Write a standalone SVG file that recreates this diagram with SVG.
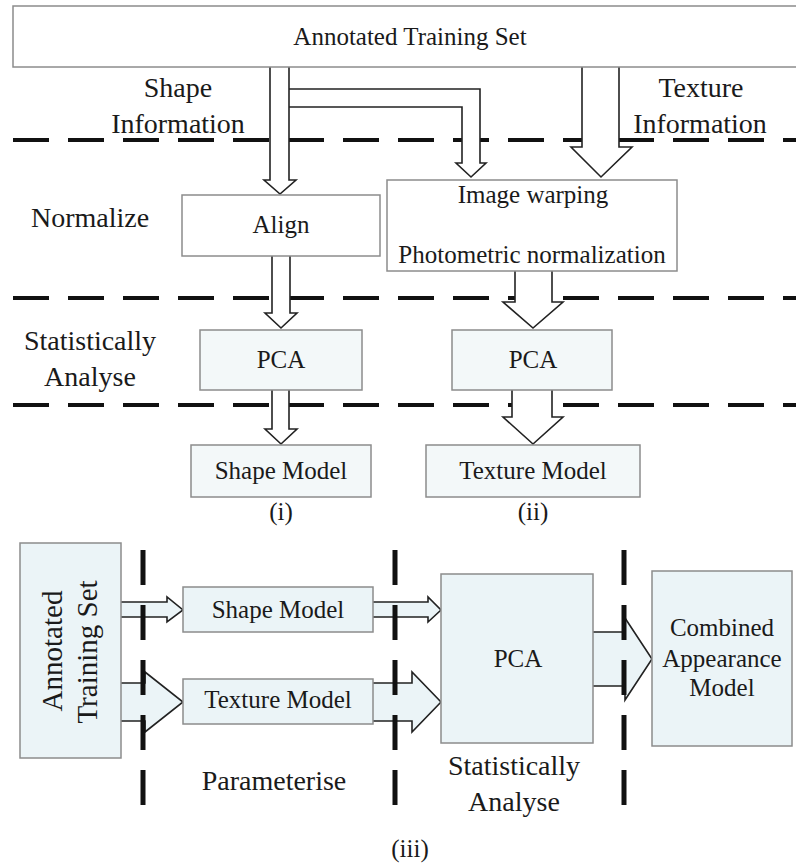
<svg xmlns="http://www.w3.org/2000/svg" width="796" height="866" viewBox="0 0 796 866">
  <style>
    text { font-family: "Liberation Serif", "Times New Roman", serif; fill: #1a1a1a; text-anchor: middle; }
    .lbl { font-size: 28px; }
    .box-t { font-size: 25px; }
    .box { fill: #ffffff; stroke: #8c8c8c; stroke-width: 1.5; }
    .box-tint { fill: #f3f8f9; stroke: #8c8c8c; stroke-width: 1.5; }
    .box-blue { fill: #ebf4f7; stroke: #8c8c8c; stroke-width: 1.5; }
    .arrow { fill: #ffffff; stroke: #222222; stroke-width: 1.6; stroke-linejoin: miter; }
    .arrow-blue { fill: #ebf4f7; stroke: #222222; stroke-width: 1.6; stroke-linejoin: miter; }
    .hdash { stroke: #111111; stroke-width: 4; stroke-dasharray: 36 19; fill: none; }
    .vdash { stroke: #111111; stroke-width: 5; stroke-dasharray: 35 20; fill: none; }
  </style>

  <!-- stage separators, top half -->
  <g id="separators-top">
    <line class="hdash" x1="13" y1="140" x2="796" y2="140"/>
    <line class="hdash" x1="13" y1="298" x2="796" y2="298"/>
    <line class="hdash" x1="13" y1="405" x2="796" y2="405"/>
  </g>

  <!-- block arrows, top half -->
  <g id="connectors-top">
    <path class="arrow" d="M289,89 H480 V163 H486 L471,177 L456,163 H462 V107 H289"/>
    <path class="arrow" d="M270,67 V180 H264 L280,194 L296,180 H289 V67"/>
    <path class="arrow" d="M582,67 V147 H571 L601,177 L632,147 H619 V67"/>
    <path class="arrow" d="M272,256 V313 H265 L281,328 L297,313 H290 V256"/>
    <path class="arrow" d="M515,271 V302 H503 L533,328 L563,302 H552 V271"/>
    <path class="arrow" d="M272,390 V429 H265 L281,444 L297,429 H289 V390"/>
    <path class="arrow" d="M512,390 V417 H503 L533,444 L563,417 H552 V390"/>
  </g>

  <g id="training-set">
    <rect class="box" x="13" y="6" width="800" height="61"/>
    <text x="410" y="45" style="font-size:25px">Annotated Training Set</text>
  </g>

  <g id="stage-labels-top">
    <text class="lbl" x="178" y="97">Shape</text>
    <text class="lbl" x="178" y="133">Information</text>
    <text class="lbl" x="701" y="97">Texture</text>
    <text class="lbl" x="700" y="133">Information</text>
    <text class="lbl" x="90" y="227">Normalize</text>
    <text class="lbl" x="90" y="350">Statistically</text>
    <text class="lbl" x="90" y="386">Analyse</text>
  </g>

  <g id="align">
    <rect class="box" x="182" y="195" width="198" height="61"/>
    <text class="box-t" x="281" y="233">Align</text>
  </g>

  <g id="warp">
    <rect class="box" x="387" y="180" width="290" height="91"/>
    <text class="box-t" x="533" y="203">Image warping</text>
    <text class="box-t" x="532" y="263">Photometric normalization</text>
  </g>

  <g id="pca-shape">
    <rect class="box-tint" x="200" y="330" width="162" height="60"/>
    <text class="box-t" x="281" y="368">PCA</text>
  </g>

  <g id="pca-texture">
    <rect class="box-tint" x="452" y="330" width="160" height="60"/>
    <text class="box-t" x="533" y="368">PCA</text>
  </g>

  <g id="shape-model">
    <rect class="box-tint" x="191" y="445" width="180" height="52"/>
    <text class="box-t" x="281" y="479">Shape Model</text>
    <text class="box-t" x="281" y="520">(i)</text>
  </g>

  <g id="texture-model">
    <rect class="box-tint" x="426" y="445" width="214" height="52"/>
    <text class="box-t" x="533" y="479">Texture Model</text>
    <text class="box-t" x="533" y="520">(ii)</text>
  </g>

  <!-- combined model, bottom half -->
  <g id="connectors-bottom">
    <path class="arrow-blue" d="M121,602 H167 V597 L183,610 L167,622 V617 H121"/>
    <path class="arrow-blue" d="M373,602 H428 V597 L441,610 L428,622 V617 H373"/>
    <path class="arrow-blue" d="M121,683 H145 V672 L183,702 L145,732 V721 H121"/>
    <path class="arrow-blue" d="M373,683 H412 V672 L441,702 L412,732 V721 H373"/>
    <path class="arrow-blue" d="M593,632 H625 V618 L652,659 L625,700 V686 H593"/>
  </g>

  <g id="bottom-training-set">
    <rect class="box-blue" x="20" y="543" width="101" height="215"/>
    <text transform="translate(62,651) rotate(-90)" style="font-size:29px">Annotated</text>
    <text transform="translate(97,652) rotate(-90)" style="font-size:29px">Training Set</text>
  </g>

  <g id="bottom-shape-model">
    <rect class="box-blue" x="183" y="587" width="190" height="45"/>
    <text class="box-t" x="278" y="618">Shape Model</text>
  </g>

  <g id="bottom-texture-model">
    <rect class="box-blue" x="183" y="679" width="190" height="45"/>
    <text class="box-t" x="278" y="708">Texture Model</text>
  </g>

  <g id="bottom-pca">
    <rect class="box-blue" x="441" y="574" width="152" height="169"/>
    <text class="box-t" x="518" y="667">PCA</text>
  </g>

  <g id="combined-model">
    <rect class="box-blue" x="652" y="571" width="140" height="175"/>
    <text class="box-t" x="722" y="636">Combined</text>
    <text class="box-t" x="722" y="667">Appearance</text>
    <text class="box-t" x="722" y="696">Model</text>
  </g>

  <g id="separators-bottom">
    <line class="vdash" x1="143" y1="550" x2="143" y2="806"/>
    <line class="vdash" x1="395" y1="550" x2="395" y2="806"/>
    <line class="vdash" x1="624" y1="550" x2="624" y2="806"/>
  </g>

  <g id="stage-labels-bottom">
    <text class="lbl" x="274" y="790">Parameterise</text>
    <text class="lbl" x="514" y="775">Statistically</text>
    <text class="lbl" x="514" y="811">Analyse</text>
    <text class="box-t" x="410" y="857">(iii)</text>
  </g>
</svg>
